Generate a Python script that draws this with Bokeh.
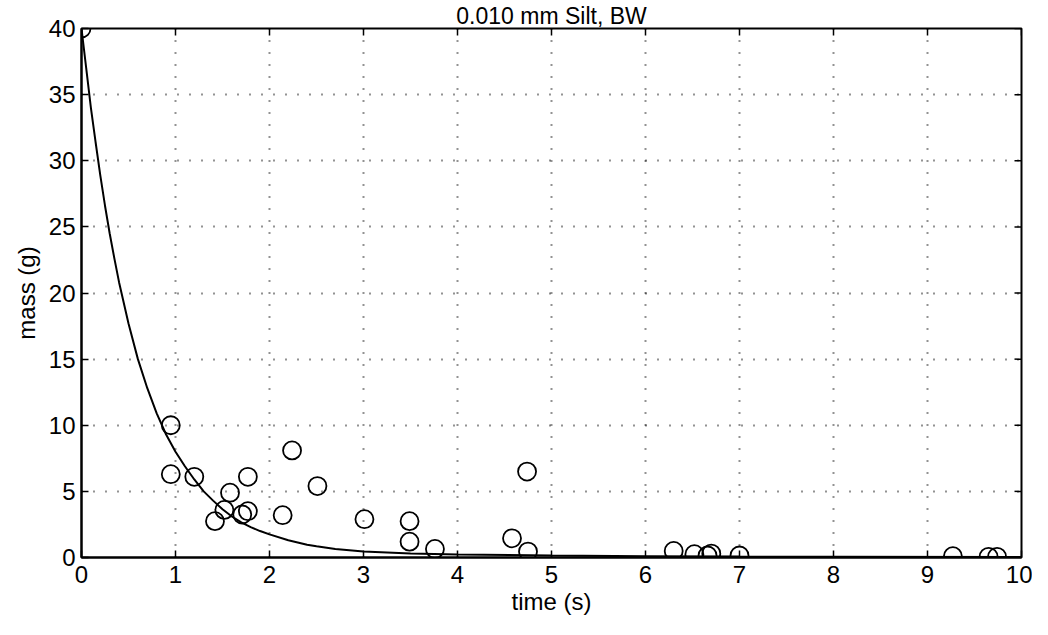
import math
from bokeh.plotting import figure
from bokeh.models import Range1d, FixedTicker
from bokeh.embed import file_html
from bokeh.resources import INLINE

# measured points: time (s) and mass (g)
time_s = [0.0, 0.95, 0.95, 1.20, 1.42, 1.52, 1.58, 1.71, 1.77, 1.77, 2.14, 2.24, 2.51,
          3.01, 3.49, 3.49, 3.76, 4.58, 4.74, 4.75, 6.30, 6.52, 6.66, 6.70, 7.00,
          9.27, 9.65, 9.74]
mass_g = [40.0, 10.0, 6.3, 6.1, 2.75, 3.6, 4.9, 3.25, 3.5, 6.1, 3.2, 8.1, 5.4,
          2.9, 2.75, 1.2, 0.65, 1.45, 6.5, 0.45, 0.5, 0.25, 0.15, 0.3, 0.15,
          0.1, 0.05, 0.05]

# fitted curve
curve_t = [0.0, 0.05, 0.1, 0.15, 0.2, 0.25, 0.3, 0.35, 0.4, 0.5, 0.6, 0.7, 0.8, 0.9,
           1.0, 1.1, 1.2, 1.3, 1.4, 1.5, 1.6, 1.7, 1.8, 1.9, 2.0, 2.2, 2.4, 2.5,
           2.7, 3.0, 3.5, 4.0, 5.0, 6.0, 7.0, 8.0, 10.0]
curve_m = [40.0, 37.0, 34.0, 31.4, 28.9, 26.6, 24.5, 22.6, 20.8, 17.7, 15.0, 12.8,
           10.9, 9.3, 8.0, 6.9, 5.9, 5.0, 4.3, 3.65, 3.1, 2.65, 2.3, 2.0, 1.75, 1.3,
           0.97, 0.85, 0.65, 0.45, 0.3, 0.22, 0.15, 0.1, 0.07, 0.05, 0.03]

x_ticks = [0, 1, 2, 3, 4, 5, 6, 7, 8, 9, 10]
y_ticks = [0, 5, 10, 15, 20, 25, 30, 35, 40]
title_text = "0.010 mm Silt, BW"
x_label = "time (s)"
y_label = "mass (g)"

FONT = "Liberation Sans"
X0, X1 = 0, 10
Y0, Y1 = 0, 40

p = figure(width=1032, height=619, output_backend="svg", toolbar_location=None,
           x_range=Range1d(X0, X1), y_range=Range1d(Y0, Y1),
           min_border_left=81, min_border_right=11, min_border_top=0,
           min_border_bottom=62)

p.title.text = title_text
p.title.align = "center"
p.title.text_font = FONT
p.title.text_font_size = "23px"
p.title.text_font_style = "normal"
p.title.text_color = "black"
p.title.offset = 0
p.title.standoff = 0

p.outline_line_color = "black"
p.outline_line_width = 2
p.background_fill_color = "white"
p.border_fill_color = "white"

for ax in (p.xaxis[0], p.yaxis[0]):
    ax.major_label_text_font = FONT
    ax.major_label_text_font_size = "24px"
    ax.major_label_text_color = "black"
    ax.axis_label_text_font = FONT
    ax.axis_label_text_font_size = "24px"
    ax.axis_label_text_font_style = "normal"
    ax.axis_label_text_color = "black"
    ax.axis_line_color = "black"
    ax.axis_line_width = 2
    ax.major_tick_in = 7
    ax.major_tick_out = 0
    ax.major_tick_line_width = 1.5
    ax.major_tick_line_color = "black"
    ax.minor_tick_line_color = None

p.xaxis[0].ticker = FixedTicker(ticks=x_ticks)
p.yaxis[0].ticker = FixedTicker(ticks=y_ticks)
p.xaxis[0].axis_label = x_label
p.yaxis[0].axis_label = y_label
p.xaxis[0].major_label_standoff = 8
p.yaxis[0].major_label_standoff = 6
p.xaxis[0].axis_label_standoff = 2
p.yaxis[0].axis_label_standoff = 6

p.xgrid.ticker = FixedTicker(ticks=x_ticks)
p.ygrid.ticker = FixedTicker(ticks=y_ticks)
for g in (p.xgrid, p.ygrid):
    g.grid_line_color = "black"
    g.grid_line_dash = "1 11"
    g.grid_line_width = 2
    g.grid_line_alpha = 0.85

# inward ticks on the top and right edges of the box
p.scatter(x_ticks, [Y1] * len(x_ticks), marker="dash", angle=math.pi / 2, size=14,
          line_color="black", line_width=1.5)
p.scatter([X1] * len(y_ticks), y_ticks, marker="dash", size=14,
          line_color="black", line_width=1.5)

p.line(curve_t, curve_m, line_color="black", line_width=2)
p.scatter(time_s, mass_g, marker="circle", size=18, fill_color=None,
          line_color="black", line_width=1.8)

open("out.html", "w").write(file_html(p, INLINE))
